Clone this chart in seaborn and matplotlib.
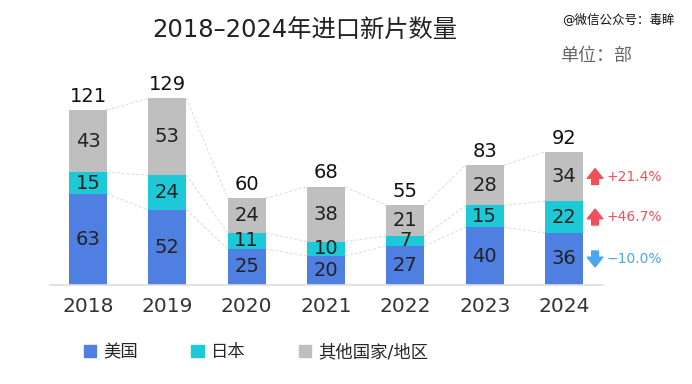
import pandas as pd
import matplotlib.pyplot as plt
import seaborn as sns

# Data
years = ["2018", "2019", "2020", "2021", "2022", "2023", "2024"]
usa = [63, 52, 25, 20, 27, 40, 36]
japan = [15, 24, 11, 10, 7, 15, 22]
others = [43, 53, 24, 38, 21, 28, 34]
series_names = ["美国", "日本", "其他国家/地区"]
colors = ["#4F80E1", "#1DC9D7", "#BFBFBF"]

df = pd.DataFrame({"year": years, "usa": usa, "japan": japan, "others": others})
df["lvl1"] = df["usa"]
df["lvl2"] = df["usa"] + df["japan"]
df["lvl3"] = df["lvl2"] + df["others"]

sns.set_style("white")
plt.rcParams["font.family"] = ["DejaVu Sans", "Noto Sans CJK SC"]

fig = plt.figure(figsize=(6.92, 3.84), dpi=100)
ax = fig.add_axes([50 / 692, 99 / 384, 553 / 692, 225 / 384])

bar_w = 0.48
# stacked bars drawn as overlapping cumulative totals
for col, c in zip(["lvl3", "lvl2", "lvl1"], colors[::-1]):
    sns.barplot(data=df, x="year", y=col, color=c, width=bar_w, saturation=1,
                linewidth=0, edgecolor="none", ax=ax)

ax.set_xlim(-0.479, 6.49)
ax.set_ylim(0, 155.6)

# dashed connectors between segment tops
for col in ["lvl1", "lvl2", "lvl3"]:
    vals = df[col].tolist()
    for i in range(len(vals) - 1):
        ax.plot([i + bar_w / 2, i + 1 - bar_w / 2], [vals[i], vals[i + 1]],
                ls=(0, (3, 2)), color="#DADADA", lw=0.7, zorder=0)

# segment labels
for i in range(len(years)):
    bottoms = [0, df["lvl1"][i], df["lvl2"][i]]
    for b, v in zip(bottoms, [usa[i], japan[i], others[i]]):
        ax.text(i, b + v / 2, str(v), ha="center", va="center", fontsize=14, color="#222222")
    ax.text(i, df["lvl3"][i] + 3, str(df["lvl3"][i]), ha="center", va="bottom",
            fontsize=14, color="#111111")

# year-over-year change for the last bar
last = len(years) - 1
changes = [
    (usa[last] / usa[last - 1] - 1, usa[last] / 2),
    (japan[last] / japan[last - 1] - 1, df["lvl1"][last] + japan[last] / 2),
    (others[last] / others[last - 1] - 1, df["lvl2"][last] + others[last] / 2),
]
xa = last + 0.39
for ch, ymid in changes:
    c = "#F0505A" if ch > 0 else "#4AA6EE"
    dy = 5.5 if ch > 0 else -5.5
    ax.annotate("", xy=(xa, ymid + dy), xytext=(xa, ymid - dy),
                arrowprops=dict(arrowstyle="simple,head_length=0.5,head_width=0.8,tail_width=0.35",
                                color=c, mutation_scale=14, shrinkA=0, shrinkB=0),
                annotation_clip=False)
    ax.text(last + 0.54, ymid, f"{ch * 100:+.1f}%".replace("-", "−"), ha="left", va="center",
            fontsize=10, color=c, clip_on=False)

sns.despine(ax=ax, left=True)
ax.spines["bottom"].set_color("#DDDDDD")
ax.spines["bottom"].set_linewidth(1.2)
ax.set_yticks([])
ax.set_xlabel("")
ax.set_ylabel("")
ax.tick_params(axis="x", length=0, pad=9, labelsize=14.5, labelcolor="#333333")

fig.text(0.441, 0.922, "2018–2024年进口新片数量", ha="center", va="center", fontsize=17.5, color="#222222")
fig.text(0.812, 0.948, "@微信公众号：毒眸", ha="left", va="center", fontsize=9, color="#111111")
fig.text(0.809, 0.854, "单位：部", ha="left", va="center", fontsize=13, color="#666666")

handles = [plt.Rectangle((0, 0), 1, 1, color=c) for c in colors]
fig.legend(handles, series_names, loc="center", bbox_to_anchor=(0.37, 0.083), ncol=3,
           frameon=False, fontsize=12.5, handlelength=0.7, handleheight=0.7,
           handletextpad=0.4, columnspacing=3.1)

fig.savefig("out.png", dpi=100)
